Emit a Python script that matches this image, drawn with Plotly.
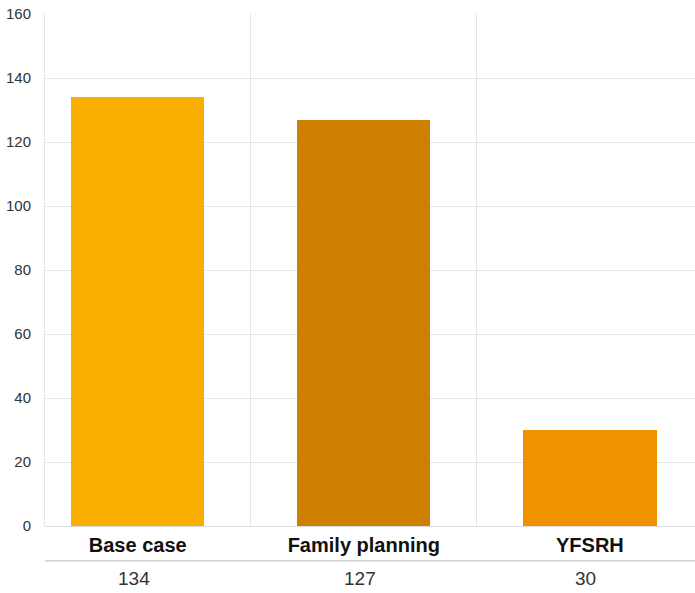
import plotly.graph_objects as go

categories = ["Base case", "Family planning", "YFSRH"]
values = [134, 127, 30]
bar_colors = ["#F9AF00", "#CE7E00", "#F09100"]
y_ticks = [0, 20, 40, 60, 80, 100, 120, 140, 160]

FONT = "Liberation Sans, Arial, sans-serif"
GRID = "#e6e6e6"

fig = go.Figure()
fig.add_trace(go.Bar(
    x=categories,
    y=values,
    marker=dict(color=bar_colors, line=dict(width=0)),
    width=0.59,
    hoverinfo="x+y",
    showlegend=False,
))

# value row beneath the category labels
for cat, val in zip(categories, values):
    fig.add_annotation(
        x=cat, y=-0.1035, xref="x", yref="paper",
        text=str(val), showarrow=False, xshift=-4,
        font=dict(family=FONT, size=19, color="#333333"),
        xanchor="center", yanchor="middle",
    )

# separator between category labels and values
fig.add_shape(
    type="line", xref="paper", yref="paper",
    x0=0, x1=1, y0=-0.068, y1=-0.068,
    line=dict(color="#c8c8c8", width=1.2),
)

fig.update_layout(
    width=695, height=593,
    margin=dict(l=45, r=0, t=14, b=67),
    paper_bgcolor="white", plot_bgcolor="white",
    font=dict(family=FONT, color="#333333"),
    bargap=0,
    xaxis=dict(
        type="category",
        range=[-0.41, 2.465],
        tickson="boundaries",
        showgrid=True, gridcolor=GRID, gridwidth=1,
        ticks="", ticklabelstandoff=5,
        tickvals=categories,
        ticktext=[f"<b>{c}</b>" for c in categories],
        tickfont=dict(family=FONT, size=20, color="#111111"),
        showline=False, zeroline=False,
        fixedrange=True,
    ),
    yaxis=dict(
        range=[0, 160],
        tickvals=y_ticks,
        showgrid=True, gridcolor=GRID, gridwidth=1,
        showline=True, linecolor=GRID, linewidth=1,
        zeroline=True, zerolinecolor="#dedede", zerolinewidth=1,
        ticks="", ticklabelstandoff=10,
        tickfont=dict(family=FONT, size=15, color="#333333"),
        fixedrange=True,
    ),
)

fig.write_html("out.html")
